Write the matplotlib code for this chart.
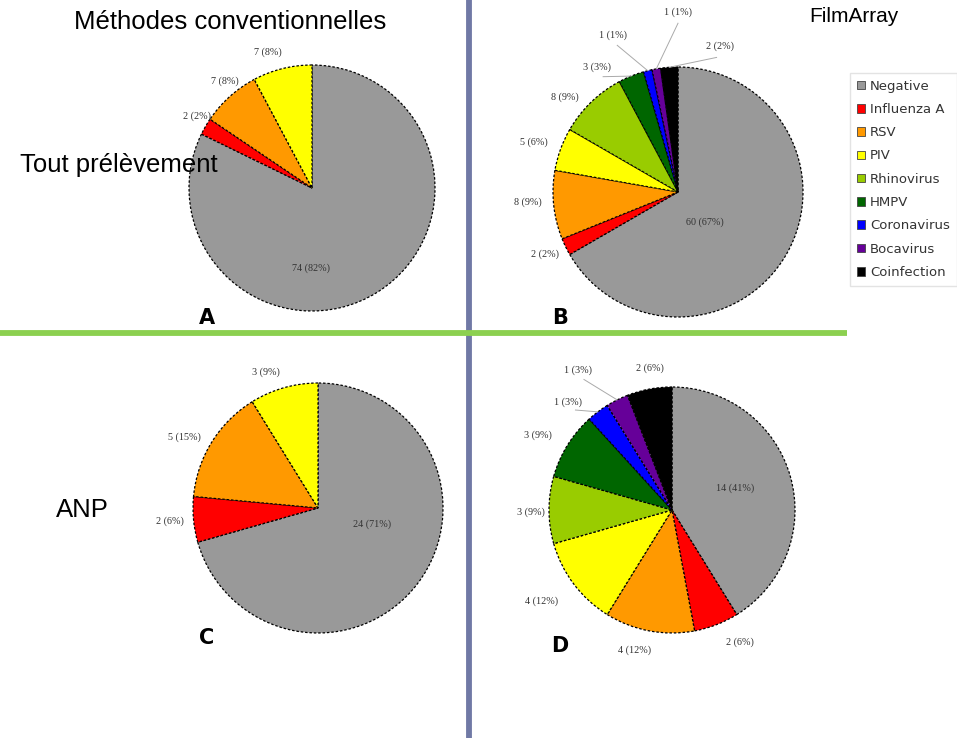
import numpy as np
import matplotlib
matplotlib.use("Agg")
from matplotlib import pyplot as plt
from matplotlib.patches import Patch

# categories and colours (same order in every pie)
categories = ["Negative", "Influenza A", "RSV", "PIV", "Rhinovirus",
              "HMPV", "Coronavirus", "Bocavirus", "Coinfection"]
cat_colors = ["#999999", "#ff0000", "#ff9900", "#ffff00", "#99cc00",
              "#006600", "#0000ff", "#660099", "#000000"]

# counts per panel
counts_A = [74, 2, 7, 7]                       # conventional, all samples
counts_B = [60, 2, 8, 5, 8, 3, 1, 1, 2]        # FilmArray, all samples
counts_C = [24, 2, 5, 3]                       # conventional, ANP
counts_D = [14, 2, 4, 4, 3, 3, 1, 1, 2]        # FilmArray, ANP

H = 738.0

# layout: centre (image px), radius, inner label (angle, r), outer labels (angle, r), leader lines
panels = [
    dict(vals=counts_A, c=(312, 188), r=123, letter="A", lpos=(207, 318),
         inner=(269, 0.65),
         outer=[(148, 1.10), (129, 1.12), (108, 1.16)],
         lead=[]),
    dict(vals=counts_B, c=(678, 192), r=125, letter="B", lpos=(560, 318),
         inner=(-48, 0.32),
         outer=[(205, 1.17), (184, 1.20), (161, 1.22), (140, 1.18),
                (123, 1.19), (112.5, 1.36), (90, 1.44), (74, 1.21)],
         lead=[5, 6, 7, 8]),
    dict(vals=counts_C, c=(318, 508), r=125, letter="C", lpos=(207, 638),
         inner=(-17, 0.45),
         outer=[(185, 1.19), (152, 1.21), (111, 1.16)],
         lead=[]),
    dict(vals=counts_D, c=(672, 510), r=123, letter="D", lpos=(560, 646),
         inner=(19, 0.54),
         outer=[(297, 1.21), (255, 1.18), (215, 1.29), (181, 1.15),
                (151, 1.25), (134, 1.22), (124, 1.37), (99, 1.17)],
         lead=[6, 7]),
]

fig = plt.figure(figsize=(9.57, 7.38), dpi=100)
ax = fig.add_axes([0, 0, 1, 1])

lab_kw = dict(fontsize=7.3, color="#333333", family="Liberation Serif",
              ha="center", va="center", zorder=6)

for p in panels:
    vals = p["vals"]
    cx, cy = p["c"][0], H - p["c"][1]
    R = p["r"]
    wedges, _ = ax.pie(vals, colors=cat_colors[:len(vals)], startangle=90,
                       counterclock=False, center=(cx, cy), radius=R,
                       wedgeprops=dict(edgecolor="black", linewidth=0.9,
                                       linestyle=(0, (2, 1.5))),
                       frame=True)
    total = float(sum(vals))
    texts = ["%d (%d%%)" % (v, round(100 * v / total)) for v in vals]

    # inner label for the Negative slice
    a, rr = p["inner"]
    ax.text(cx + rr * R * np.cos(np.radians(a)), cy + rr * R * np.sin(np.radians(a)),
            texts[0], **lab_kw)

    # outer labels
    for i, (a, rr) in enumerate(p["outer"], start=1):
        tx = cx + rr * R * np.cos(np.radians(a))
        ty = cy + rr * R * np.sin(np.radians(a))
        ax.text(tx, ty, texts[i], **lab_kw)
        if i in p["lead"]:
            w = wedges[i]
            mid = np.radians((w.theta1 + w.theta2) / 2.0)
            ex, ey = cx + R * np.cos(mid), cy + R * np.sin(mid)
            r2 = rr - 0.09
            lx = cx + r2 * R * np.cos(np.radians(a))
            ly = cy + r2 * R * np.sin(np.radians(a))
            ax.plot([ex, lx], [ey, ly], color="#aaaaaa", lw=0.7, zorder=5)

    ax.text(p["lpos"][0], H - p["lpos"][1], p["letter"], fontsize=15,
            fontweight="bold", family="DejaVu Sans", ha="center", va="center")

# separators
ax.plot([468.5, 468.5], [0, H], color="#7079a5", lw=4.2, solid_capstyle="butt", zorder=1)
ax.plot([0, 847], [H - 332.5, H - 332.5], color="#8cd050", lw=4.2,
        solid_capstyle="butt", zorder=2)

# headings
head_kw = dict(fontsize=18.5, family="Liberation Sans", color="black",
               ha="center", va="center", zorder=8)
ax.text(230, H - 22, "Méthodes conventionnelles", **head_kw)
ax.text(119, H - 165, "Tout prélèvement", **head_kw)
ax.text(82, H - 510, "ANP", **head_kw)
ax.text(854, H - 16, "FilmArray", **dict(head_kw, fontsize=15))

ax.set_xlim(0, 957)
ax.set_ylim(0, H)
ax.set_aspect("equal")
ax.axis("off")

handles = [Patch(facecolor=col, edgecolor="#444444", linewidth=0.6) for col in cat_colors]
leg = ax.legend(handles, categories, loc="upper left",
                bbox_to_anchor=(850 / 957.0, 1 - 73 / H),
                bbox_transform=fig.transFigure,
                prop=dict(family="DejaVu Sans", size=9.5),
                handlelength=0.62, handleheight=0.62, handletextpad=0.4,
                labelspacing=0.78, borderpad=0.5, frameon=True, fancybox=False,
                edgecolor="#dddddd", borderaxespad=0)
for t in leg.get_texts():
    t.set_color("#333333")

fig.savefig("out.png", dpi=100)
